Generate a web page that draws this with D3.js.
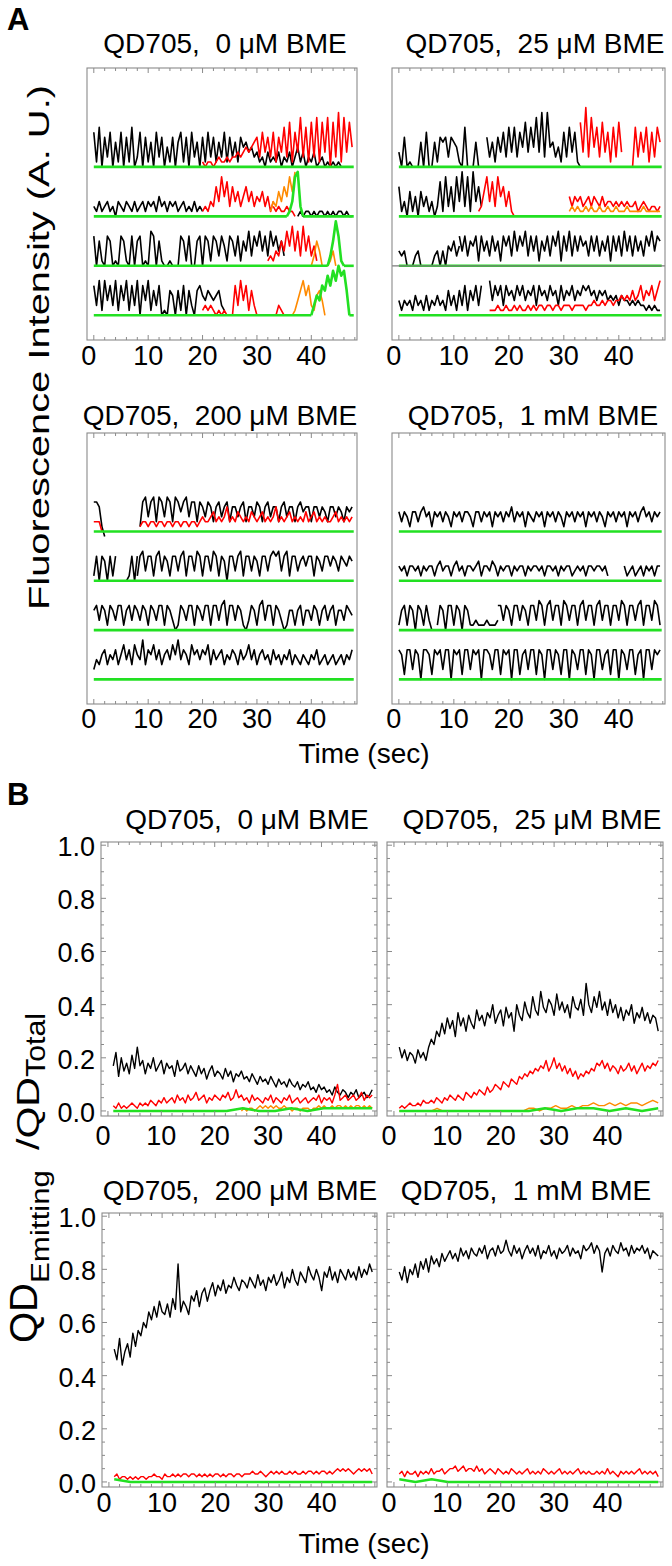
<!DOCTYPE html>
<html><head><meta charset="utf-8">
<script src="https://cdn.jsdelivr.net/npm/d3@7"></script>
<style>
body{margin:0;background:#fff}
svg text{font-family:"Liberation Sans",Arial,Helvetica,sans-serif;fill:#000}
</style>
</head><body>
<script>
// ---------------- DATA ----------------
// tick values / labels
const timeTicks = [0, 10, 20, 30, 40];
const timeTickLabels = ["0", "10", "20", "30", "40"];
const fracTicks = [0, 0.2, 0.4, 0.6, 0.8, 1.0];
const fracTickLabels = ["0.0", "0.2", "0.4", "0.6", "0.8", "1.0"];
const titlesA = ["QD705,  0 \u03BCM BME", "QD705,  25 \u03BCM BME", "QD705,  200 \u03BCM BME", "QD705,  1 mM BME"];
const titlesB = ["QD705,  0 \u03BCM BME", "QD705,  25 \u03BCM BME", "QD705,  200 \u03BCM BME", "QD705,  1 mM BME"];
// vertical offsets (A.U.) of the four stacked single-QD traces in each panel A plot
const traceOffsets = [30, 20, 10, 0];

// Panel A traces: each series = list of segments [tStart, tEnd, values evenly spaced]
const flat = [[0, 47.8, [0, 0]]];
// 0 uM BME
const a0t1Black = [[0,46.5,[7,1,8,0,6,2,7,0,5,1,7,0,6,1,8,0,2,7,0,6,1,5,0,7,2,6,0,4,1,6,0,5,7,1,6,0,7,2,5,0,6,1,7,2,6,1,5,2,7,1,6,2,5,1,6,4,5,3,4,2,3,1,2,0,3,1,2,1,3,0,2,1,3,0,2,4,1,3,0,2,1,3,0,1,2,0,1,0,1,0,1,0,0,0]]];
const a0t1Red = [[20,47.5,[1,0,1,1,0,1,2,1,1,2,1,2,2,3,2,3,4,3,4,5,6,2,7,3,6,2,7,1,6,3,8,2,9,1,7,3,10,2,8,1,9,2,10,1,9,3,10,0,9,2,11,1,10,3,9,4]]];
const a0t1Orange = [];
const a0t1Green = flat;
const a0t2Black = [[0,20,[2,1,3,1,2,3,1,2,0,3,2,1,3,2,1,3,1,2,3,1,3,2,3,1,4,2,3,1,3,2,3,1,2,3,1,2,1,3,1,2,1]],[37.5,47.5,[0,1,0,1,1,0,1,0,1,1,0,1,0,1,0,1,1,0,1,0,0]]];
const a0t2Red = [[20,33,[1,2,1,3,2,6,3,8,4,7,2,6,3,5,2,4,6,3,5,2,4,3,5,2,4,1,3]],[33,37,[2,1,2,1,1,2,1,1,0]]];
const a0t2Orange = [[32.5,37,[1,3,2,5,3,6,4,8,5,9]]];
const a0t2Green = [[0,35.5,[0,0]],[35.5,38.5,[0,1,3,8,9,2,0]],[38.5,47.8,[0,0]]];
const a0t3Black = [[0,35,[6,0,5,1,0,6,5,0,1,0,6,5,1,0,6,0,5,6,0,1,0,7,6,0,5,1,0,0,1,0,0,0,6,5,1,6,0,0,5,6,0,6,5,1,6,5,2,6,4,1,6,5,2,6,1,5,3,7,2,6,4,7,3,6,2,7,4,6,3,5,2]]];
const a0t3Red = [[32,41,[1,2,1,3,2,5,3,7,4,8,3,7,2,8,3,6,2,4,1]]];
const a0t3Orange = [[40,44.5,[0,2,5,3,0,0,0,1,3,0]]];
const a0t3Green = [[0,43,[0,0]],[43,46,[0,2,5,9,6,1,0]],[46,47.8,[0,0]]];
const a0t4Black = [[0,24,[6,2,7,1,7,3,6,2,7,1,6,3,7,1,6,2,7,0,6,3,7,1,5,2,6,0,1,0,5,4,0,5,1,6,0,5,2,0,5,6,4,3,5,4,3,4,5,2,1]]];
const a0t4Red = [[20,31,[1,2,1,2,1,0,1,0,1,0,0,0,6,2,7,3,6,1,5,2,0,0,0]],[33.5,35,[0,2,1,0]]];
const a0t4Orange = [[36.5,42.5,[0,1,3,5,7,4,6,2,1,4,5,3,0]]];
const a0t4Green = [[0,40,[0,0]],[40,47,[0,2,4,3,6,5,8,6,9,7,10,8,9,5,0]],[47,47.8,[0,0]]];
// 25 uM BME
const a1t1Black = [[0,15,[3,0,6,0,1,0,0,0,5,0,7,0,0,5,1,6,5,6,2,6,5,4,1,0,8,0,0,0,5,0,0]],[16,33,[6,2,5,1,6,3,7,2,8,3,8,2,7,4,9,3,8,4,10,3,11,2,11,4,5,2,4,1,7,2,8,3,7,1,0]]];
const a1t1Red = [[33,40.5,[9,3,12,2,10,4,8,2,9,3,7,1,8,2,9,3]],[42.5,47.5,[0,8,2,7,3,8,1,7,2,8,5]]];
const a1t1Orange = [];
const a1t1Green = flat;
const a1t2Black = [[0,15,[6,1,3,0,5,1,4,0,5,2,4,1,3,0,2,7,1,8,2,6,1,8,3,9,2,8,1,9,3,6,2]]];
const a1t2Red = [[14.5,21,[1,2,5,8,3,7,2,8,4,6,2,5,1,0]],[31,47.5,[4,2,4,3,4,2,3,4,2,4,3,2,4,2,3,3,2,3,2,3,2,3,2,2,3,1,2,3,2,1,2,2,1,2]]];
const a1t2Orange = [[31,47.5,[1,2,1,2,1,1,2,1,2,1,1,2,1,1,2,1,1,2,1,1,1,2,1,1,1,1,1,2,1,1,1,1,1,1]]];
const a1t2Green = flat;
const a1t3Black = [[0,11,[3,2,3,0,0,0,2,3,0,0,0,0,0,2,3,0,3,0,4,3,5,2,4]],[11,47.5,[6,3,6,2,5,4,6,1,6,3,5,2,6,3,5,1,6,4,6,2,7,3,6,4,7,2,6,3,6,1,5,3,6,2,6,4,7,1,6,3,7,2,6,3,6,4,5,2,6,3,6,2,5,3,6,1,6,3,6,2,7,3,6,2,6,3,5,2,6,4,7,3,6,5]]];
const a1t3Red = [];
const a1t3Orange = [];
const a1t3Green = flat;
const a1t4Black = [[0,15,[3,1,3,2,3,1,4,2,3,1,4,1,3,2,4,2,3,1,5,2,4,1,5,2,6,1,5,3,6,2,6]],[16.5,47.5,[7,3,6,4,6,2,6,4,5,3,6,4,6,3,5,4,6,2,6,4,5,3,6,4,5,2,6,3,5,4,6,3,5,4,6,5,6,4,5,3,5,4,5,3,4,3,4,2,4,3,3,2,3,2,3,2,2,1,2,1,2,1,1]]];
const a1t4Red = [[16.5,47.5,[1,1,1,2,1,1,2,1,1,2,1,2,1,1,2,1,2,1,2,2,1,2,2,1,2,2,1,2,2,2,1,2,2,2,2,1,2,2,3,2,2,3,2,3,3,2,3,3,4,3,4,3,5,3,4,6,3,5,4,6,3,5,7]]];
const a1t4Orange = [];
const a1t4Green = flat;
// 200 uM BME
const a2t1Black = [[0,2,[6,6,5,1,-1]],[8.5,47.5,[1,6,7,3,6,7,2,7,6,3,7,6,2,7,6,4,6,7,3,6,6,2,6,5,3,6,5,2,5,6,3,5,6,2,5,5,3,5,6,2,5,5,3,6,5,2,5,6,3,5,5,2,5,6,3,5,5,2,5,6,4,5,5,2,5,5,3,5,4,2,5,5,3,5,4,2,5,4,5]]];
const a2t1Red = [[0,1.5,[2,2,2,0]],[8.5,47.5,[1,2,2,1,2,2,1,2,2,1,2,2,1,2,2,1,2,2,1,2,2,1,2,3,2,2,3,4,2,3,2,3,5,2,3,2,4,3,2,3,2,4,3,2,3,4,2,3,2,3,5,2,3,2,3,4,2,3,2,3,2,4,2,3,4,2,3,2,3,2,2,3,4,2,3,2,3,2,3]]];
const a2t2Black = [[0,4,[1,5,0,5,4,0,5,1,5]],[6,8,[0,1,5,0,5]],[8,47.5,[1,5,6,2,5,5,1,5,6,2,5,4,1,5,5,2,5,6,1,5,5,2,6,5,1,5,5,2,6,5,1,5,4,0,5,5,2,5,6,1,5,5,2,5,4,1,5,5,2,5,6,5,6,2,5,6,1,5,5,2,4,5,3,5,5,1,5,4,2,5,5,3,5,4,2,5,4,3,5,4]]];
const a2t3Black = [[0,47.5,[4,5,2,5,4,1,5,4,2,5,5,1,4,5,2,5,4,2,5,4,1,5,4,2,5,5,1,5,4,2,0,1,5,4,2,5,5,1,5,4,2,5,5,1,5,5,2,5,6,1,5,5,2,5,4,1,0,2,5,4,1,5,6,2,5,5,1,5,4,2,0,1,4,4,1,4,5,1,4,4,2,5,4,1,4,5,2,4,5,1,4,4,2,5,4,3]]];
const a2t4Black = [[0,47.5,[2,4,3,5,6,3,5,4,6,3,5,7,4,6,3,7,5,4,8,3,6,5,7,4,6,3,5,6,4,7,5,8,4,6,5,3,7,5,6,4,6,5,7,3,6,4,5,6,3,5,4,6,5,3,6,4,5,7,4,6,3,5,6,4,5,3,6,4,5,3,5,4,6,3,5,4,3,5,4,3,5,4,6,3,4,5,3,4,5,3,4,5,3,5,4,6]]];
// 1 mM BME
const a3t1Black = [[0,47.5,[4,2,4,3,1,4,4,2,4,5,3,4,1,4,3,4,2,4,3,1,4,3,4,2,4,4,3,1,4,4,2,4,3,4,1,4,3,4,2,4,3,5,2,4,3,4,1,4,3,2,4,3,4,1,4,3,4,2,4,3,1,4,3,4,2,4,3,4,1,4,3,4,2,4,3,1,4,3,4,2,4,3,4,1,4,3,4,2,4,5,3,4,2,4,3,4]]];
const a3t2Black = [[0,38,[3,2,3,1,3,3,2,3,1,3,2,3,3,1,3,4,2,3,3,1,3,4,2,3,1,3,3,2,3,4,1,3,3,2,4,3,1,3,2,3,3,1,3,2,3,3,1,3,2,3,3,2,3,1,3,3,2,3,1,3,2,3,3,1,2,3,2,3,1,3,3,2,3,3,2,3,1]],[41,47.5,[3,1,2,3,1,2,3,1,3,2,3,1,3,3]]];
const a3t3Black = [[0,6,[1,4,5,1,5,4,0,5,4,1,5,2,0]],[7,13,[1,5,4,0,5,5,1,5,4,0,5,4,1]],[13,18,[1,1,2,1,1,1,2,1,1,1,2]],[18,47.5,[5,5,2,5,4,1,5,5,2,5,4,1,5,5,2,6,5,1,5,6,2,5,5,1,6,5,2,5,5,1,5,6,2,5,5,1,5,6,2,5,5,1,5,5,2,6,5,1,5,5,2,5,6,1,5,5,2,6,5,1]]];
const a3t4Black = [[0,47.5,[6,5,1,6,6,2,6,5,0,6,6,5,1,6,5,6,2,6,6,0,6,5,6,1,6,6,2,6,5,6,0,6,6,5,2,6,6,1,6,5,6,0,6,6,1,5,6,2,6,6,1,6,5,0,6,6,2,6,5,1,6,6,0,6,5,2,6,6,1,6,5,0,6,6,2,5,6,1,6,6,0,6,5,2,6,6,1,5,6,0,6,6,2,6,5,6]]];

// Panel B: fraction emitting (percent), segments [tStart, tEnd, values]
const b0Black = [[1,49.5,[17,22,13,20,15,18,14,21,16,24,17,19,14,18,16,20,15,17,19,14,18,16,17,13,19,15,16,18,14,17,15,13,17,14,16,12,15,17,13,15,14,12,16,13,15,11,14,13,15,12,13,11,14,12,10,13,11,12,10,13,11,9,12,10,11,9,12,10,9,11,8,10,9,11,8,9,7,10,8,9,7,8,6,9,7,6,8,7,5,7,6,8,5,6,7,5,6,8]]];
const b0Red = [[1,49.5,[2,1,3,1,2,1,2,3,2,1,3,2,3,2,4,3,2,4,3,5,3,4,5,3,6,4,5,3,6,4,5,7,4,5,6,3,5,4,6,5,4,6,5,7,4,5,8,5,6,4,5,3,6,4,5,4,3,5,4,6,3,5,4,3,5,4,6,3,4,5,3,4,5,3,4,5,4,6,3,5,4,5,3,6,10,4,5,6,4,5,6,4,5,7,4,6,5,6]]];
const b0Orange = [[25,49.5,[0,1,0,1,1,0,1,2,1,2,1,2,1,2,1,1,2,1,1,0,1,1,0,1,1,1,0,1,1,2,1,2,1,1,2,1,2,2,1,2,1,2,1,2,2,1,2,1,2,1]]];
const b0Green = [[1,49.5,[0,0,0,0,0,0,0,0,1,0,0,1,0,1,1,1,1]]];
const b1Black = [[1,49.5,[24,20,23,19,22,21,18,23,20,22,19,24,27,25,30,28,33,29,35,31,34,28,37,32,35,30,36,33,31,38,34,36,32,37,35,40,33,36,38,32,39,35,37,30,40,36,34,41,37,35,43,38,36,45,39,37,42,40,36,44,38,41,37,40,35,43,39,38,42,36,48,40,37,43,39,45,38,41,36,42,37,40,35,39,34,38,36,40,33,37,35,39,34,37,33,36,35,30]]];
const b1Red = [[1,49.5,[1,2,1,2,3,2,2,3,2,4,3,3,4,3,5,4,3,5,4,6,5,4,6,5,4,7,6,5,7,6,8,7,6,9,7,8,10,9,8,11,10,9,12,11,10,13,12,14,13,15,14,16,15,17,16,19,15,17,20,16,18,15,17,14,16,13,15,12,14,13,15,14,16,15,18,17,19,16,18,15,17,16,14,17,15,16,18,15,17,14,16,18,15,17,16,18,17,19]]];
const b1Orange = [[1,49.5,[0,0,0,0,0,0,0,1,0,0,0,0,0,0,0,0,0,0,0,0,0,0,0,0,1,1,0,1,1,2,1,1,2,1,2,2,3,2,2,3,2,3,2,3,3,2,3,4,3]]];
const b1Green = [[1,49.5,[0,0,0,0,0,0,0,0,0,1,0,1,1,0,1,0,1]]];
const b2Black = [[1,49.5,[50,46,54,44,49,52,47,56,51,57,55,60,58,64,61,66,62,68,64,63,67,62,69,65,82,64,68,66,63,70,68,72,66,71,73,68,72,75,70,74,72,76,71,74,73,77,74,72,76,75,73,77,75,73,78,74,76,72,77,75,78,74,76,79,73,77,75,80,76,74,79,77,75,81,78,76,80,77,72,79,77,81,76,79,75,80,78,76,80,77,79,76,81,77,80,78,82,79]]];
const b2Red = [[1,49.5,[2,3,1,2,2,1,2,1,2,1,2,2,1,2,2,3,2,2,1,3,2,2,3,2,3,2,3,3,2,3,3,2,3,2,3,2,3,2,3,3,2,3,2,3,3,2,3,3,2,3,3,3,4,3,3,4,3,2,3,4,3,4,3,4,3,3,4,3,4,3,3,4,3,4,4,3,4,3,4,4,3,4,3,4,5,4,5,4,5,4,3,4,5,4,5,4,5,3]]];
const b2Orange = [];
const b2Green = [[1,49.5,[1,0,0,0,0,0,0,0,0,0,0,0,0,0,0,0,0]]];
const b3Black = [[1,49.5,[79,76,81,75,80,78,82,77,83,80,84,79,85,82,84,81,86,83,85,87,84,86,83,88,85,87,84,88,86,85,88,86,89,84,87,88,85,89,86,87,91,87,85,89,86,88,84,87,89,86,88,85,89,84,87,86,89,85,87,84,88,86,87,89,85,88,86,87,84,89,87,88,90,86,89,87,79,86,88,85,89,87,86,90,87,88,85,89,86,88,87,89,86,88,84,87,86,85]]];
const b3Red = [[1,49.5,[3,4,2,4,3,3,4,2,4,3,4,3,5,3,4,4,5,3,4,5,5,6,4,5,6,4,5,5,4,6,4,5,3,4,5,4,3,5,4,3,4,3,5,4,3,4,3,4,5,3,4,3,4,3,5,4,3,4,3,4,5,3,4,3,4,3,4,5,3,4,3,4,3,3,4,3,4,3,5,3,4,3,2,4,3,4,3,4,3,4,5,3,4,3,4,3,4,2]]];
const b3Orange = [];
const b3Green = [[1,49.5,[1,0,1,0,0,0,0,0,0,0,0,0,0,0,0,0,0]]];

// ---------------- BUILD ----------------
const panelsA = [
  {title: titlesA[0], traces: [
    {black:a0t1Black, red:a0t1Red, orange:a0t1Orange, green:a0t1Green},
    {black:a0t2Black, red:a0t2Red, orange:a0t2Orange, green:a0t2Green},
    {black:a0t3Black, red:a0t3Red, orange:a0t3Orange, green:a0t3Green},
    {black:a0t4Black, red:a0t4Red, orange:a0t4Orange, green:a0t4Green}]},
  {title: titlesA[1], traces: [
    {black:a1t1Black, red:a1t1Red, orange:a1t1Orange, green:a1t1Green},
    {black:a1t2Black, red:a1t2Red, orange:a1t2Orange, green:a1t2Green},
    {black:a1t3Black, red:a1t3Red, orange:a1t3Orange, green:a1t3Green},
    {black:a1t4Black, red:a1t4Red, orange:a1t4Orange, green:a1t4Green}]},
  {title: titlesA[2], traces: [
    {black:a2t1Black, red:a2t1Red, orange:[], green:flat},
    {black:a2t2Black, red:[], orange:[], green:flat},
    {black:a2t3Black, red:[], orange:[], green:flat},
    {black:a2t4Black, red:[], orange:[], green:flat}]},
  {title: titlesA[3], traces: [
    {black:a3t1Black, red:[], orange:[], green:flat},
    {black:a3t2Black, red:[], orange:[], green:flat},
    {black:a3t3Black, red:[], orange:[], green:flat},
    {black:a3t4Black, red:[], orange:[], green:flat}]}
];
const panelsB = [
  {title: titlesB[0], black:b0Black, red:b0Red, orange:b0Orange, green:b0Green},
  {title: titlesB[1], black:b1Black, red:b1Red, orange:b1Orange, green:b1Green},
  {title: titlesB[2], black:b2Black, red:b2Red, orange:b2Orange, green:b2Green},
  {title: titlesB[3], black:b3Black, red:b3Red, orange:b3Orange, green:b3Green}
];

// ---------------- LAYOUT / STYLE ----------------
const W = 672, H = 1566;
const colors = {black:"#000000", red:"#ff0000", orange:"#ff8a00", green:"#22e022"};
const widthsA = {black:1.6, red:1.6, orange:1.6, green:2.6};
const widthsB = {black:1.4, red:1.4, orange:1.4, green:2.4};
const frameColor = "#8a8a8a";
const A_X = [-1.25, 48.4], A_Y = [-5, 50];
const B_X = [-1.3, 50.4], B_Y = [-0.019, 1.012];
const layoutA = [
  {x0:87, x1:357, y0:68, y1:340, tx:225, ty:53, labY:365},
  {x0:392, x1:665, y0:68, y1:340, tx:535, ty:53, labY:365},
  {x0:87, x1:357, y0:433, y1:704, tx:220, ty:425, labY:728},
  {x0:392, x1:665, y0:433, y1:704, tx:533, ty:425, labY:728}
];
const layoutB = [
  {x0:101, x1:377, y0:842, y1:1116, tx:247, ty:829, labY:1145, ylab:true},
  {x0:387, x1:663, y0:842, y1:1116, tx:532, ty:829, labY:1145, ylab:false},
  {x0:102, x1:377, y0:1213, y1:1487, tx:240, ty:1200, labY:1512, ylab:true},
  {x0:387, x1:663, y0:1213, y1:1487, tx:526, ty:1200, labY:1512, ylab:false}
];

const svg = d3.select("body").append("svg").attr("width", W).attr("height", H)
  .attr("viewBox", `0 0 ${W} ${H}`);
const defs = svg.append("defs");

function segPoints(seg) {
  const [t0, t1, v] = seg;
  const n = v.length;
  return v.map((val, i) => [n > 1 ? t0 + i * (t1 - t0) / (n - 1) : t0, val]);
}

function drawFrame(g, L, x, y, opt) {
  g.append("rect").attr("x", L.x0).attr("y", L.y0).attr("width", L.x1 - L.x0).attr("height", L.y1 - L.y0)
    .attr("fill", "none").attr("stroke", frameColor).attr("stroke-width", 1.1);
  const xd = x.domain();
  const minorX = d3.range(0, xd[1], 2);
  minorX.forEach(t => {
    const len = (t % 10 === 0) ? 5 : 3;
    const px = x(t);
    g.append("line").attr("x1", px).attr("x2", px).attr("y1", L.y1).attr("y2", L.y1 - len).attr("stroke", frameColor);
    g.append("line").attr("x1", px).attr("x2", px).attr("y1", L.y0).attr("y2", L.y0 + len).attr("stroke", frameColor);
  });
  if (opt.yTicks) {
    d3.range(0, 1.0001, 0.05).forEach((v, i) => {
      const len = (i % 4 === 0) ? 5 : 3;
      const py = y(v);
      g.append("line").attr("x1", L.x0).attr("x2", L.x0 + len).attr("y1", py).attr("y2", py).attr("stroke", frameColor);
      g.append("line").attr("x1", L.x1).attr("x2", L.x1 - len).attr("y1", py).attr("y2", py).attr("stroke", frameColor);
    });
  }
  timeTicks.forEach((t, i) => {
    g.append("text").attr("x", x(t) + (t === 0 ? -5 : 0)).attr("y", L.labY)
      .attr("text-anchor", "middle").style("font-size", "27px").text(timeTickLabels[i]);
  });
}

// ---------------- PANEL A ----------------
layoutA.forEach((L, pi) => {
  const x = d3.scaleLinear().domain(A_X).range([L.x0, L.x1]);
  const y = d3.scaleLinear().domain(A_Y).range([L.y1, L.y0]);
  const g = svg.append("g");
  const cid = "clipA" + pi;
  defs.append("clipPath").attr("id", cid).append("rect")
    .attr("x", L.x0).attr("y", L.y0).attr("width", L.x1 - L.x0).attr("height", L.y1 - L.y0);
  const plot = g.append("g").attr("clip-path", `url(#${cid})`);
  const panel = panelsA[pi];
  panel.traces.forEach((tr, ti) => {
    const off = traceOffsets[ti];
    const line = d3.line().x(d => x(d[0])).y(d => y(off + d[1]));
    ["black", "red", "orange", "green"].forEach(ch => {
      tr[ch].forEach(seg => {
        plot.append("path").attr("d", line(segPoints(seg))).attr("fill", "none")
          .attr("stroke", colors[ch]).attr("stroke-width", widthsA[ch]).attr("stroke-linejoin", "round");
      });
    });
  });
  if (pi === 1) {
    g.append("line").attr("x1", L.x0).attr("x2", L.x1).attr("y1", y(traceOffsets[2])).attr("y2", y(traceOffsets[2]))
      .attr("stroke", "#7a7a7a").attr("stroke-width", 1.2);
  }
  drawFrame(g, L, x, y, {yTicks:false});
  svg.append("text").attr("x", L.tx).attr("y", L.ty).attr("text-anchor", "middle")
    .style("font-size", "28px").style("white-space", "pre").text(panel.title);
});

// ---------------- PANEL B ----------------
layoutB.forEach((L, pi) => {
  const x = d3.scaleLinear().domain(B_X).range([L.x0, L.x1]);
  const y = d3.scaleLinear().domain(B_Y).range([L.y1, L.y0]);
  const g = svg.append("g");
  const cid = "clipB" + pi;
  defs.append("clipPath").attr("id", cid).append("rect")
    .attr("x", L.x0).attr("y", L.y0).attr("width", L.x1 - L.x0).attr("height", L.y1 - L.y0);
  const plot = g.append("g").attr("clip-path", `url(#${cid})`);
  const panel = panelsB[pi];
  const line = d3.line().x(d => x(d[0])).y(d => y(d[1] / 100));
  ["black", "red", "orange", "green"].forEach(ch => {
    panel[ch].forEach(seg => {
      plot.append("path").attr("d", line(segPoints(seg))).attr("fill", "none")
        .attr("stroke", colors[ch]).attr("stroke-width", widthsB[ch]).attr("stroke-linejoin", "round");
    });
  });
  drawFrame(g, L, x, y, {yTicks:true});
  if (L.ylab) {
    fracTicks.forEach((v, i) => {
      g.append("text").attr("x", L.x0 - 6).attr("y", y(v) + 11).attr("text-anchor", "end")
        .style("font-size", "27px").text(fracTickLabels[i]);
    });
  }
  svg.append("text").attr("x", L.tx).attr("y", L.ty).attr("text-anchor", "middle")
    .style("font-size", "28px").style("white-space", "pre").text(panel.title);
});

// ---------------- LABELS ----------------
svg.append("text").attr("x", 7).attr("y", 30).style("font-size", "31px").style("font-weight", "bold").text("A");
svg.append("text").attr("x", 7).attr("y", 805).style("font-size", "31px").style("font-weight", "bold").text("B");
[763, 1553].forEach(yy => {
  svg.append("text").attr("x", 364).attr("y", yy).attr("text-anchor", "middle").style("font-size", "28px").text("Time (sec)");
});
svg.append("text").attr("transform", "translate(49,347.5) rotate(-90)").attr("text-anchor", "middle")
  .style("font-size", "30px").attr("textLength", 525).attr("lengthAdjust", "spacingAndGlyphs")
  .text("Fluorescence Intensity (A. U.)");
// QD_Emitting / QD_Total
const yLabB = [
  {txt:"QD", bx:37, start:1343, len:60, fs:38},
  {txt:"Emitting", bx:49, start:1283, len:113, fs:26},
  {txt:"/QD", bx:39, start:1150, len:73, fs:32},
  {txt:"Total", bx:45, start:1077, len:64, fs:28}
];
yLabB.forEach(p => {
  svg.append("text").attr("transform", `translate(${p.bx},${p.start}) rotate(-90)`).attr("text-anchor", "start")
    .style("font-size", p.fs + "px").attr("textLength", p.len).attr("lengthAdjust", "spacingAndGlyphs").text(p.txt);
});
</script>
</body></html>
